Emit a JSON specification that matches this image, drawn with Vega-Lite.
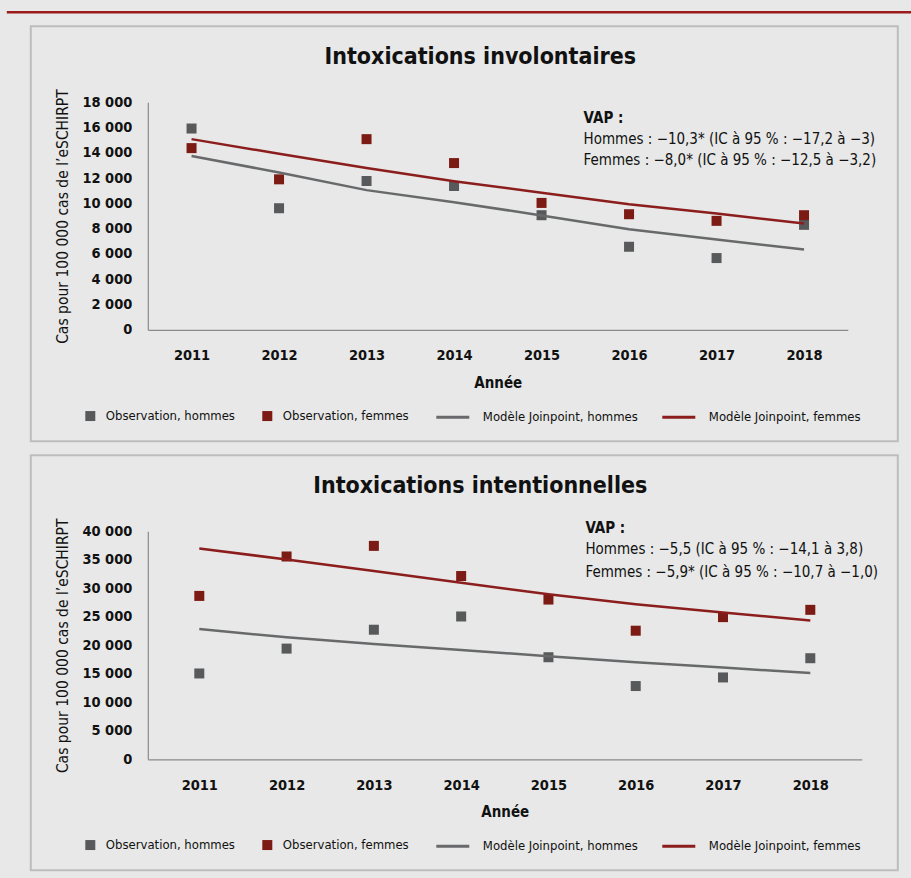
{
  "$schema": "https://vega.github.io/schema/vega-lite/v6.json",
  "background": "#e7e8e7",
  "padding": {"left": 4.8, "top": 10.3, "right": 0, "bottom": 7},
  "spacing": 14,
  "bounds": "flush",
  "resolve": {"scale": {"fill": "independent", "stroke": "independent"}, "legend": {"fill": "independent", "stroke": "independent"}},
  "datasets": {
    "involontaires": [
      {"annee": "2011", "serie": "Observation, hommes", "valeur": 15925},
      {"annee": "2012", "serie": "Observation, hommes", "valeur": 9618},
      {"annee": "2013", "serie": "Observation, hommes", "valeur": 11773},
      {"annee": "2014", "serie": "Observation, hommes", "valeur": 11379},
      {"annee": "2015", "serie": "Observation, hommes", "valeur": 9066},
      {"annee": "2016", "serie": "Observation, hommes", "valeur": 6570},
      {"annee": "2017", "serie": "Observation, hommes", "valeur": 5676},
      {"annee": "2018", "serie": "Observation, hommes", "valeur": 8304},
      {"annee": "2011", "serie": "Observation, femmes", "valeur": 14375},
      {"annee": "2012", "serie": "Observation, femmes", "valeur": 11905},
      {"annee": "2013", "serie": "Observation, femmes", "valeur": 15085},
      {"annee": "2014", "serie": "Observation, femmes", "valeur": 13192},
      {"annee": "2015", "serie": "Observation, femmes", "valeur": 10039},
      {"annee": "2016", "serie": "Observation, femmes", "valeur": 9145},
      {"annee": "2017", "serie": "Observation, femmes", "valeur": 8620},
      {"annee": "2018", "serie": "Observation, femmes", "valeur": 9066},
      {"annee": "2011", "serie": "Modèle Joinpoint, hommes", "valeur": 13750},
      {"annee": "2012", "serie": "Modèle Joinpoint, hommes", "valeur": 12450},
      {"annee": "2013", "serie": "Modèle Joinpoint, hommes", "valeur": 11050},
      {"annee": "2014", "serie": "Modèle Joinpoint, hommes", "valeur": 10100},
      {"annee": "2015", "serie": "Modèle Joinpoint, hommes", "valeur": 9050},
      {"annee": "2016", "serie": "Modèle Joinpoint, hommes", "valeur": 7950},
      {"annee": "2017", "serie": "Modèle Joinpoint, hommes", "valeur": 7150},
      {"annee": "2018", "serie": "Modèle Joinpoint, hommes", "valeur": 6350},
      {"annee": "2011", "serie": "Modèle Joinpoint, femmes", "valeur": 15085},
      {"annee": "2012", "serie": "Modèle Joinpoint, femmes", "valeur": 13930},
      {"annee": "2013", "serie": "Modèle Joinpoint, femmes", "valeur": 12800},
      {"annee": "2014", "serie": "Modèle Joinpoint, femmes", "valeur": 11750},
      {"annee": "2015", "serie": "Modèle Joinpoint, femmes", "valeur": 10850},
      {"annee": "2016", "serie": "Modèle Joinpoint, femmes", "valeur": 9930},
      {"annee": "2017", "serie": "Modèle Joinpoint, femmes", "valeur": 9200},
      {"annee": "2018", "serie": "Modèle Joinpoint, femmes", "valeur": 8410}
    ],
    "intentionnelles": [
      {"annee": "2011", "serie": "Observation, hommes", "valeur": 15058},
      {"annee": "2012", "serie": "Observation, hommes", "valeur": 19419},
      {"annee": "2013", "serie": "Observation, hommes", "valeur": 22733},
      {"annee": "2014", "serie": "Observation, hommes", "valeur": 25058},
      {"annee": "2015", "serie": "Observation, hommes", "valeur": 17907},
      {"annee": "2016", "serie": "Observation, hommes", "valeur": 12849},
      {"annee": "2017", "serie": "Observation, hommes", "valeur": 14360},
      {"annee": "2018", "serie": "Observation, hommes", "valeur": 17733},
      {"annee": "2011", "serie": "Observation, femmes", "valeur": 28663},
      {"annee": "2012", "serie": "Observation, femmes", "valeur": 35581},
      {"annee": "2013", "serie": "Observation, femmes", "valeur": 37442},
      {"annee": "2014", "serie": "Observation, femmes", "valeur": 32151},
      {"annee": "2015", "serie": "Observation, femmes", "valeur": 28023},
      {"annee": "2016", "serie": "Observation, femmes", "valeur": 22558},
      {"annee": "2017", "serie": "Observation, femmes", "valeur": 24942},
      {"annee": "2018", "serie": "Observation, femmes", "valeur": 26221},
      {"annee": "2011", "serie": "Modèle Joinpoint, hommes", "valeur": 22850},
      {"annee": "2012", "serie": "Modèle Joinpoint, hommes", "valeur": 21400},
      {"annee": "2013", "serie": "Modèle Joinpoint, hommes", "valeur": 20230},
      {"annee": "2014", "serie": "Modèle Joinpoint, hommes", "valeur": 19190},
      {"annee": "2015", "serie": "Modèle Joinpoint, hommes", "valeur": 18080},
      {"annee": "2016", "serie": "Modèle Joinpoint, hommes", "valeur": 17040},
      {"annee": "2017", "serie": "Modèle Joinpoint, hommes", "valeur": 16100},
      {"annee": "2018", "serie": "Modèle Joinpoint, hommes", "valeur": 15120},
      {"annee": "2011", "serie": "Modèle Joinpoint, femmes", "valeur": 36980},
      {"annee": "2012", "serie": "Modèle Joinpoint, femmes", "valeur": 35060},
      {"annee": "2013", "serie": "Modèle Joinpoint, femmes", "valeur": 33020},
      {"annee": "2014", "serie": "Modèle Joinpoint, femmes", "valeur": 30990},
      {"annee": "2015", "serie": "Modèle Joinpoint, femmes", "valeur": 28950},
      {"annee": "2016", "serie": "Modèle Joinpoint, femmes", "valeur": 27210},
      {"annee": "2017", "serie": "Modèle Joinpoint, femmes", "valeur": 25760},
      {"annee": "2018", "serie": "Modèle Joinpoint, femmes", "valeur": 24360}
    ]
  },
  "vconcat": [
    {
      "width": 867,
      "height": 2,
      "view": {"stroke": null, "fill": null},
      "data": {"values": [{}]},
      "mark": {"type": "rule", "color": "#9b1b1b", "strokeWidth": 2.4},
      "encoding": {
        "x": {"datum": 0, "type": "quantitative", "scale": {"domain": [0, 1], "range": [-24, 881]}, "axis": null},
        "x2": {"datum": 1},
        "y": {"datum": 0, "type": "quantitative", "scale": {"domain": [0, 1]}, "axis": null}
      }
    },
    {
      "width": 867,
      "height": 415,
      "title": {"text": "Intoxications involontaires", "anchor": "middle", "frame": "group", "orient": "top", "offset": -61, "baseline": "alphabetic", "dx": 16, "fontSize": 23, "fontWeight": "bold", "color": "#111111"},
      "encoding": {
        "x": {"field": "annee", "type": "ordinal", "scale": {"type": "point", "range": [117, 817], "padding": 0.5},
              "axis": {"title": "Année", "offset": -111.5, "labelAngle": 0}},
        "y": {"field": "valeur", "type": "quantitative", "scale": {"domain": [0, 18000], "range": [303.5, 76], "nice": false},
              "axis": {"title": "Cas pour 100 000 cas de l’eSCHIRPT", "offset": -117, "values": [0, 2000, 4000, 6000, 8000, 10000, 12000, 14000, 16000, 18000], "format": ",d"}}
      },
      "layer": [
        {
          "data": {"name": "involontaires"},
          "transform": [{"filter": {"field": "serie", "oneOf": ["Observation, hommes", "Observation, femmes"]}}],
          "mark": {"type": "point", "shape": "square", "filled": true, "size": 100, "opacity": 1, "strokeWidth": 0},
          "encoding": {
            "fill": {"field": "serie", "type": "nominal",
              "scale": {"domain": ["Observation, hommes", "Observation, femmes"], "range": ["#58595b", "#7c1a14"]},
              "legend": {"orient": "none", "legendX": 53, "legendY": 383, "direction": "horizontal", "title": null, "symbolType": "square", "symbolSize": 100, "symbolStrokeWidth": 0, "labelOffset": 9, "columnPadding": 25, "padding": 0}}
          }
        },
        {
          "data": {"name": "involontaires"},
          "transform": [{"filter": {"field": "serie", "oneOf": ["Modèle Joinpoint, hommes", "Modèle Joinpoint, femmes"]}}],
          "mark": {"type": "line", "strokeWidth": 2.5},
          "encoding": {
            "stroke": {"field": "serie", "type": "nominal",
              "scale": {"domain": ["Modèle Joinpoint, hommes", "Modèle Joinpoint, femmes"], "range": ["#68696b", "#8b1d1d"]},
              "legend": {"orient": "none", "legendX": 404, "legendY": 373, "direction": "horizontal", "title": null, "symbolType": "stroke", "symbolSize": 1089, "symbolStrokeWidth": 3, "labelOffset": 12, "columnPadding": 17, "padding": 0}}
          }
        },
        {
          "data": {"values": [{"t": "VAP :", "annee": "2015", "valeur": 16740}]},
          "mark": {"type": "text", "align": "left", "baseline": "middle", "dx": 42, "fontSize": 15, "fontWeight": "bold", "color": "#111111"},
          "encoding": {"text": {"field": "t", "type": "nominal"}}
        },
        {
          "data": {"values": [
            {"t": "Hommes : −10,3* (IC à 95 % : −17,2 à −3)", "annee": "2015", "valeur": 15120},
            {"t": "Femmes : −8,0* (IC à 95 % : −12,5 à −3,2)", "annee": "2015", "valeur": 13420}
          ]},
          "mark": {"type": "text", "align": "left", "baseline": "middle", "dx": 42, "fontSize": 15, "color": "#111111"},
          "encoding": {"text": {"field": "t", "type": "nominal"}}
        }
      ]
    },
    {
      "width": 867,
      "height": 415,
      "title": {"text": "Intoxications intentionnelles", "anchor": "middle", "frame": "group", "orient": "top", "offset": -61, "baseline": "alphabetic", "dx": 16, "fontSize": 23, "fontWeight": "bold", "color": "#111111"},
      "encoding": {
        "x": {"field": "annee", "type": "ordinal", "scale": {"type": "point", "range": [117, 831], "padding": 0.59},
              "axis": {"title": "Année", "offset": -111, "labelAngle": 0}},
        "y": {"field": "valeur", "type": "quantitative", "scale": {"domain": [0, 40000], "range": [304, 76], "nice": false},
              "axis": {"title": "Cas pour 100 000 cas de l’eSCHIRPT", "offset": -117, "values": [0, 5000, 10000, 15000, 20000, 25000, 30000, 35000, 40000], "format": ",d"}}
      },
      "layer": [
        {
          "data": {"name": "intentionnelles"},
          "transform": [{"filter": {"field": "serie", "oneOf": ["Observation, hommes", "Observation, femmes"]}}],
          "mark": {"type": "point", "shape": "square", "filled": true, "size": 100, "opacity": 1, "strokeWidth": 0},
          "encoding": {
            "fill": {"field": "serie", "type": "nominal",
              "scale": {"domain": ["Observation, hommes", "Observation, femmes"], "range": ["#58595b", "#7c1a14"]},
              "legend": {"orient": "none", "legendX": 53, "legendY": 383, "direction": "horizontal", "title": null, "symbolType": "square", "symbolSize": 100, "symbolStrokeWidth": 0, "labelOffset": 9, "columnPadding": 25, "padding": 0}}
          }
        },
        {
          "data": {"name": "intentionnelles"},
          "transform": [{"filter": {"field": "serie", "oneOf": ["Modèle Joinpoint, hommes", "Modèle Joinpoint, femmes"]}}],
          "mark": {"type": "line", "strokeWidth": 2.5},
          "encoding": {
            "stroke": {"field": "serie", "type": "nominal",
              "scale": {"domain": ["Modèle Joinpoint, hommes", "Modèle Joinpoint, femmes"], "range": ["#68696b", "#8b1d1d"]},
              "legend": {"orient": "none", "legendX": 404, "legendY": 373, "direction": "horizontal", "title": null, "symbolType": "stroke", "symbolSize": 1089, "symbolStrokeWidth": 3, "labelOffset": 12, "columnPadding": 17, "padding": 0}}
          }
        },
        {
          "data": {"values": [{"t": "VAP :", "annee": "2015", "valeur": 40520}]},
          "mark": {"type": "text", "align": "left", "baseline": "middle", "dx": 37, "fontSize": 15, "fontWeight": "bold", "color": "#111111"},
          "encoding": {"text": {"field": "t", "type": "nominal"}}
        },
        {
          "data": {"values": [
            {"t": "Hommes : −5,5 (IC à 95 % : −14,1 à 3,8)", "annee": "2015", "valeur": 36930},
            {"t": "Femmes : −5,9* (IC à 95 % : −10,7 à −1,0)", "annee": "2015", "valeur": 32895}
          ]},
          "mark": {"type": "text", "align": "left", "baseline": "middle", "dx": 37, "fontSize": 15, "color": "#111111"},
          "encoding": {"text": {"field": "t", "type": "nominal"}}
        }
      ]
    }
  ],
  "config": {
    "font": "Liberation Sans Narrow, DejaVu Sans Condensed, Liberation Sans, sans-serif",
    "locale": {"number": {"decimal": ",", "thousands": " ", "grouping": [3], "currency": ["", " $"]}},
    "view": {"stroke": "#bdbdbd", "strokeWidth": 2},
    "axis": {"grid": false, "ticks": false, "tickSize": 0, "domainColor": "#8a8a8a", "domainWidth": 1.2,
             "labelFontWeight": "bold", "labelFontSize": 14.5, "labelColor": "#111111",
             "titleColor": "#111111", "titleFontSize": 15.5},
    "axisX": {"labelPadding": 19, "titlePadding": 13, "titleFontWeight": "bold", "titleFontSize": 15},
    "axisY": {"labelPadding": 16, "titlePadding": 11, "titleFontWeight": "normal"},
    "legend": {"labelFontSize": 13, "labelColor": "#111111", "labelLimit": 300}
  }
}
